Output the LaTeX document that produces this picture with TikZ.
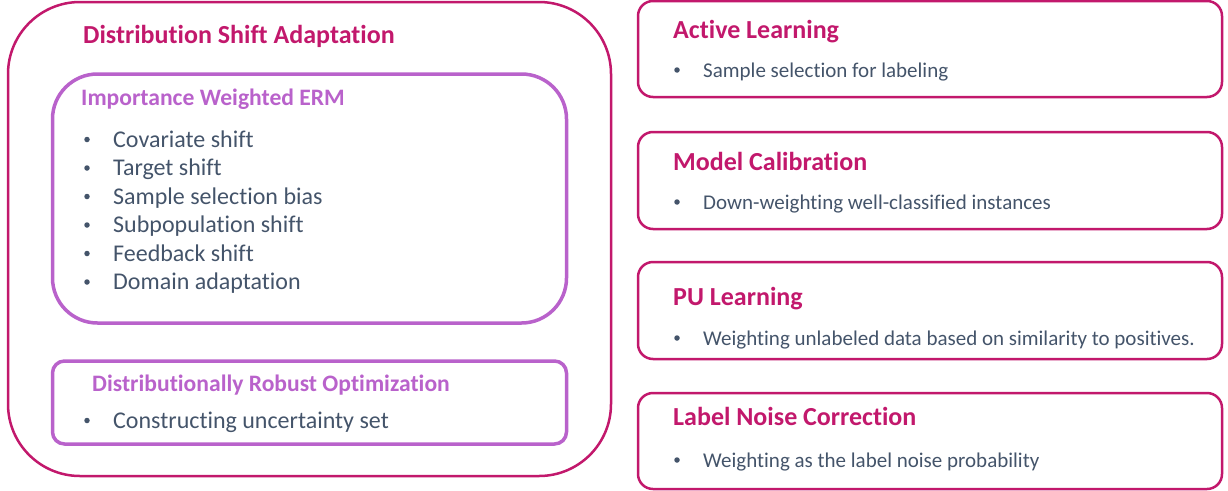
\documentclass[tikz,border=0pt]{standalone}
\usepackage{fontspec}
\setmainfont[Ligatures=NoCommon]{Carlito}
\definecolor{magentaline}{HTML}{C2186C}
\definecolor{orchidline}{HTML}{B962CB}
\definecolor{slatetext}{HTML}{44546A}
\tikzset{
  framebox/.style={draw=#1,rectangle,anchor=north west,inner sep=0pt,outer sep=0pt},
  headline/.style={anchor=base west,inner sep=0pt,font=\bfseries\fontsize{26}{26}\selectfont,text=magentaline},
  subheadline/.style={anchor=base west,inner sep=0pt,font=\bfseries\fontsize{23.6}{24}\selectfont,text=orchidline},
  bigitem/.style={anchor=base west,inner sep=0pt,font=\fontsize{24}{24}\selectfont,text=slatetext},
  smallitem/.style={anchor=base west,inner sep=0pt,font=\fontsize{21}{21}\selectfont,text=slatetext},
  dot/.style={circle,fill=slatetext,inner sep=0pt,minimum size=5.5pt}
}
\begin{document}
\begin{tikzpicture}[x=1pt,y=-1pt]
	\useasboundingbox (0,0) rectangle (1228,490);
	% left part
	\node[framebox=magentaline,line width=2.5pt,rounded corners=72pt,minimum width=603pt,minimum height=474pt] (dsa) at (8,2) {};
	\node[headline] (dsatitle) at (83,43) {Distribution Shift Adaptation};
	\node[framebox=orchidline,line width=3.5pt,rounded corners=45pt,minimum width=514pt,minimum height=249pt] (erm) at (52.5,74) {};
	\node[subheadline] (ermtitle) at (81,105) {Importance Weighted ERM};
	\foreach \txt [count=\i] in {Covariate shift,Target shift,Sample selection bias,Subpopulation shift,Feedback shift,Domain adaptation}{
		\node[dot] (ermdot\i) at (87,{139.5+28.5*(\i-1)}) {};
		\node[bigitem] (ermitem\i) at (113,{147+28.5*(\i-1)}) {\txt};
	}
	\node[framebox=orchidline,line width=3.5pt,rounded corners=12pt,minimum width=514pt,minimum height=83pt] (dro) at (52.5,361) {};
	\node[subheadline] (drotitle) at (92,391) {Distributionally Robust Optimization};
	\node[dot] (drodot) at (87,420.5) {};
	\node[bigitem] (droitem) at (113,428) {Constructing uncertainty set};
	% right part
	\node[framebox=magentaline,line width=2.5pt,rounded corners=15pt,minimum width=584pt,minimum height=96pt] (al) at (638,1) {};
	\node[headline] (altitle) at (673,38) {Active Learning};
	\node[dot] (aldot) at (677,70) {};
	\node[smallitem] (alitem) at (703,77) {Sample selection for labeling};
	\node[framebox=magentaline,line width=2.5pt,rounded corners=15pt,minimum width=584pt,minimum height=97pt] (mc) at (638,132) {};
	\node[headline] (mctitle) at (673,170) {Model Calibration};
	\node[dot] (mcdot) at (677,202) {};
	\node[smallitem] (mcitem) at (703,209) {Down-weighting well-classified instances};
	\node[framebox=magentaline,line width=2.5pt,rounded corners=15pt,minimum width=584pt,minimum height=97pt] (pu) at (638,262) {};
	\node[headline] (putitle) at (673,305) {PU Learning};
	\node[dot] (pudot) at (677,338) {};
	\node[smallitem] (puitem) at (703,345) {Weighting unlabeled data based on similarity to positives.};
	\node[framebox=magentaline,line width=2.5pt,rounded corners=15pt,minimum width=584pt,minimum height=96pt] (lnc) at (638,393) {};
	\node[headline] (lnctitle) at (673,425) {Label Noise Correction};
	\node[dot] (lncdot) at (677,460) {};
	\node[smallitem] (lncitem) at (703,467) {Weighting as the label noise probability};
\end{tikzpicture}
\end{document}
